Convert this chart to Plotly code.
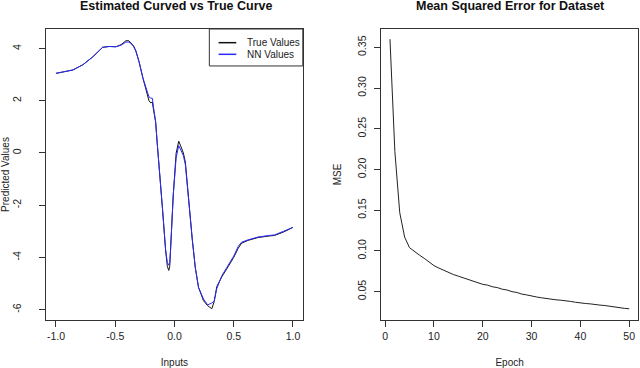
import plotly.graph_objects as go
from plotly.subplots import make_subplots

# Left panel: true curve and network estimate
true_x = [-1.0, -0.93, -0.857, -0.773, -0.69, -0.606, -0.55, -0.494, -0.45, -0.41,
          -0.385, -0.368, -0.345, -0.326, -0.299, -0.265, -0.243, -0.229, -0.215, -0.2,
          -0.187, -0.175, -0.159, -0.146, -0.131, -0.1, -0.075, -0.06, -0.048, -0.04,
          -0.033, -0.01, 0.014, 0.025, 0.036, 0.05, 0.075, 0.092, 0.12, 0.15,
          0.176, 0.19, 0.203, 0.245, 0.28, 0.315, 0.335, 0.357, 0.4, 0.44,
          0.5, 0.538, 0.566, 0.62, 0.705, 0.8, 0.845, 0.92, 1.0]
true_y = [3.05, 3.1, 3.18, 3.38, 3.68, 4.05, 4.08, 4.07, 4.15, 4.3,
          4.3, 4.22, 4.1, 3.92, 3.5, 2.85, 2.5, 2.22, 2.0, 1.92,
          1.95, 1.6, 1.2, 0.4, -0.35, -2.2, -3.72, -4.35, -4.5, -4.35,
          -3.72, -1.6, -0.01, 0.3, 0.45, 0.3, 0.0, -0.35, -1.9, -3.3,
          -4.4, -4.9, -5.15, -5.66, -5.85, -5.97, -5.7, -5.12, -4.74, -4.45,
          -4.0, -3.65, -3.46, -3.35, -3.24, -3.18, -3.16, -3.03, -2.85]
nn_y = [3.05, 3.1, 3.18, 3.38, 3.68, 4.05, 4.08, 4.07, 4.13, 4.25,
        4.25, 4.2, 4.08, 3.9, 3.5, 2.85, 2.5, 2.3, 2.15, 2.1,
        2.1, 1.7, 1.2, 0.4, -0.35, -2.2, -3.7, -4.2, -4.3, -4.2,
        -3.7, -1.6, -0.2, 0.1, 0.28, 0.15, -0.1, -0.45, -1.9, -3.3,
        -4.4, -4.9, -5.15, -5.6, -5.82, -5.75, -5.68, -5.2, -4.7, -4.4,
        -3.95, -3.58, -3.42, -3.33, -3.22, -3.16, -3.14, -3.0, -2.85]

# Right panel: training error per epoch
epochs = list(range(1, 51))
mse = [0.360, 0.222, 0.147, 0.117, 0.104, 0.099, 0.095, 0.091, 0.086, 0.082,
       0.079, 0.076, 0.073, 0.071, 0.069, 0.067, 0.065, 0.063, 0.061, 0.059,
       0.058, 0.056, 0.055, 0.053, 0.052, 0.050, 0.049, 0.047, 0.046, 0.0445,
       0.0435, 0.0425, 0.0415, 0.041, 0.040, 0.0395, 0.039, 0.038, 0.037, 0.036,
       0.0355, 0.035, 0.034, 0.0335, 0.033, 0.032, 0.031, 0.0305, 0.0295, 0.029]

x_ticks = [-1.0, -0.5, 0.0, 0.5, 1.0]
x_labels = ["-1.0", "-0.5", "0.0", "0.5", "1.0"]
y_ticks = [-6, -4, -2, 0, 2, 4]
y_labels = ["-6", "-4", "-2", "0", "2", "4"]
mse_ticks = [0.05, 0.10, 0.15, 0.20, 0.25, 0.30, 0.35]
epoch_ticks = [0, 10, 20, 30, 40, 50]

series_names = ["True Values", "NN Values"]
series_colors = ["#111111", "#2a2aff"]

FONT = "Liberation Sans, Arial, sans-serif"
AXIS_COL = "#333333"

fig = make_subplots(rows=1, cols=2, horizontal_spacing=0.1324)

for name, ys, col in zip(series_names, [true_y, nn_y], series_colors):
    fig.add_trace(go.Scatter(
        x=true_x, y=ys, mode="lines", name=name, showlegend=False,
        line=dict(color=col, width=1),
    ), row=1, col=1)

fig.add_trace(go.Scatter(
    x=epochs, y=mse, mode="lines", showlegend=False,
    line=dict(color="#222222", width=1),
), row=1, col=2)

axis_common = dict(
    showline=True, mirror=True, linecolor=AXIS_COL, linewidth=1,
    ticks="outside", ticklen=6, tickcolor=AXIS_COL, showgrid=False, zeroline=False,
    automargin=False,
    tickfont=dict(size=10.5, color="#222222", family=FONT),
    title_font=dict(size=10, color="#222222", family=FONT),
)

fig.update_xaxes(axis_common)
fig.update_yaxes(axis_common)

fig.update_xaxes(range=[-1.084, 1.083], tickvals=x_ticks, ticktext=x_labels,
                 title_text="Inputs", title_standoff=20, ticklabelstandoff=0, row=1, col=1)
fig.update_yaxes(range=[-6.4, 4.75], tickvals=y_ticks, ticktext=y_labels, tickangle=-90,
                 title_text="Predicted Values", title_standoff=5, ticklabelstandoff=14,
                 row=1, col=1)
fig.update_xaxes(range=[-0.8, 51.8], tickvals=epoch_ticks,
                 title_text="Epoch", title_standoff=20, ticklabelstandoff=0, row=1, col=2)
fig.update_yaxes(range=[0.0152, 0.3725], tickvals=mse_ticks, tickformat=".2f", tickangle=-90,
                 title_text="MSE", title_standoff=12, ticklabelstandoff=4, row=1, col=2)

# panel titles
for text, xc in [("Estimated Curved vs True Curve", 0.2188), ("Mean Squared Error for Dataset", 0.7838)]:
    fig.add_annotation(
        text=f"<b>{text}</b>", xref="paper", yref="paper", x=xc, y=1.079,
        xanchor="center", yanchor="middle", showarrow=False,
        font=dict(size=12.5, color="#111111", family=FONT),
    )

# R-style legend box in the top-right corner of the left panel
fig.add_shape(type="rect", xref="x domain", yref="y domain",
              x0=0.636, x1=1.0, y0=0.873, y1=1.0,
              line=dict(color=AXIS_COL, width=1), fillcolor="white", layer="above")
for i, (name, col) in enumerate(zip(series_names, series_colors)):
    yy = 0.953 - i * 0.04
    fig.add_shape(type="line", xref="x domain", yref="y domain",
                  x0=0.672, x1=0.741, y0=yy, y1=yy,
                  line=dict(color=col, width=1.5), layer="above")
    fig.add_annotation(text=name, xref="x domain", yref="y domain", x=0.776, y=yy,
                       xanchor="left", yanchor="middle", showarrow=False,
                       font=dict(size=10, color="#222222", family=FONT))

fig.update_layout(
    width=640, height=368,
    margin=dict(l=46, r=2, t=29, b=48, autoexpand=False),
    paper_bgcolor="white", plot_bgcolor="white",
    font=dict(family=FONT),
    showlegend=False,
)

# drop the browser's default 8px body margin so the figure fills the window
fig.write_html("out.html", config={"displayModeBar": False},
               post_script="document.body.style.margin = '0px';")
